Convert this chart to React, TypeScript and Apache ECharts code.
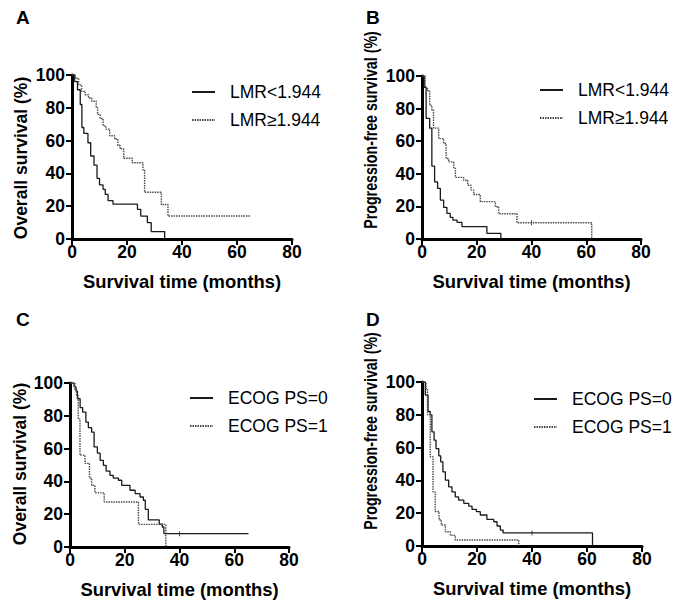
import React, { useEffect, useRef } from "react";
import * as echarts from "echarts";

// ---- Panel A: Overall survival by LMR ----
const aLowT = [0, 1, 2, 3, 3.6, 4.3, 5.8, 6.8, 8, 9.1, 10, 11.3, 12.1, 13.1, 14.9, 23.8, 25, 27.4, 28.8, 33.7];
const aLowS = [100, 96, 91, 82, 68, 64.4, 58.7, 50.6, 45, 37, 33, 30.3, 27.2, 23.4, 21.3, 18.1, 14, 10, 4.5, 0];
const aHighT = [0, 1.2, 2.4, 3.5, 4.8, 6, 7.2, 8.8, 9.3, 10.2, 11.3, 12.3, 13.7, 15.5, 16.7, 17.5, 18.8, 21.9, 25.8, 26.4, 32.5, 34.9, 65];
const aHighS = [100, 98, 94, 90, 88, 86, 84, 80, 76, 73.5, 69, 67, 63, 61, 57, 55, 49.2, 46.5, 42, 28.5, 21, 14, 14];

// ---- Panel B: Progression-free survival by LMR ----
const bLowT = [0, 0.8, 1.5, 2.8, 3.6, 4.6, 5.7, 6.7, 7.9, 9.1, 10.3, 11.3, 12.8, 14.6, 23.7, 28.8];
const bLowS = [100, 93, 74, 68, 44.7, 35, 31, 23.9, 19.4, 15.7, 13.3, 11.6, 10.2, 7.6, 3.5, 0];
const bHighT = [0, 1.2, 2.0, 2.8, 3.6, 4.2, 6.1, 7.9, 8.8, 9.7, 11.6, 12.2, 15.2, 16.7, 17.9, 18.9, 21.3, 26.8, 28, 34.7, 62, 62];
const bHighS = [100, 93, 91, 82, 79, 68, 61.6, 58.6, 49.4, 47.3, 43.3, 37.8, 36, 33, 30, 27.3, 22.9, 19.8, 15.5, 10, 10, 0];

// ---- Panel C: Overall survival by ECOG PS ----
const cPs0T = [0, 1.5, 2.2, 2.7, 3.7, 4.6, 5.8, 6.7, 7.9, 8.8, 10, 11, 12.2, 13.2, 14.6, 15.8, 17.7, 18.9, 21.9, 23.8, 25.6, 26.8, 27.5, 28.6, 32.6, 33.7, 34.3, 65.2];
const cPs0S = [100, 97.6, 95, 90.4, 85, 82.3, 76.2, 72.8, 70, 61, 57.3, 52.8, 49.8, 46.3, 43.7, 42, 40.7, 37.6, 34.6, 32.5, 30.5, 28.5, 23, 16.5, 14, 12.2, 8.1, 8.1];
const cPs1T = [0, 1.8, 2.4, 3.0, 3.65, 5.5, 7.1, 7.9, 9.1, 12.5, 25, 35];
const cPs1S = [100, 96, 92.5, 78, 56, 51, 42, 37.6, 33, 27.4, 13.8, 0];

// ---- Panel D: Progression-free survival by ECOG PS ----
const dPs0T = [0, 1.2, 2.2, 3, 3.6, 4.4, 5.1, 6.1, 6.8, 7.6, 8.5, 9.7, 10.9, 12.1, 13.3, 15.2, 17, 18.2, 19.8, 21.2, 23.6, 26.1, 27.3, 28.5, 29.5, 62, 62];
const dPs0S = [100, 92, 82, 80, 69.6, 64.5, 59.4, 55, 51.3, 45.2, 40.2, 36.1, 33, 30, 28, 26, 24.3, 22.3, 20.9, 18.9, 16.2, 14.8, 12.2, 9.7, 8, 8, 0];
const dPs1T = [0, 1.5, 2.0, 3.0, 4.0, 4.8, 6.2, 7.0, 8.5, 10.3, 12.1, 35.2, 35.2];
const dPs1S = [100, 96, 80, 54.4, 33, 21, 16, 12.8, 8.7, 6.5, 3.7, 3.7, 0];

// censored observations (tick marks)
const censorPanel = [1, 2, 3];
const censorT = [40, 40, 40];
const censorS = [10, 8.1, 8];

const groupLMR = ["LMR<1.944", "LMR\u22651.944"];
const groupECOG = ["ECOG PS=0", "ECOG PS=1"];
const panelLetters = ["A", "B", "C", "D"];
const yTitles = ["Overall survival (%)", "Progression-free survival (%)", "Overall survival (%)", "Progression-free survival (%)"];
const xTitle = "Survival time (months)";
const xTicks = [0, 20, 40, 60, 80];
const yTicks = [0, 20, 40, 60, 80, 100];

const FONT = "Arial, 'Liberation Sans', Helvetica, sans-serif";

const zip = (t: number[], s: number[]) => t.map((v, i) => [v, s[i]]);

const grids = [
  { left: 72, top: 75, width: 220, height: 164 },
  { left: 422, top: 76, width: 219, height: 163 },
  { left: 70, top: 383, width: 219, height: 164 },
  { left: 422, top: 382, width: 220, height: 164 },
];

const letterPos = [
  [16, 8],
  [366, 8],
  [16, 310],
  [366, 310],
];

// x, y (centre), font size, scale along the text
const yTitlePos = [
  [21, 158, 17.5, 1],
  [370, 130, 18, 0.79],
  [20, 464, 17.5, 1],
  [370, 431, 18, 0.79],
];

const legendPos = [
  { left: 191, top: 83 },
  { left: 539, top: 81 },
  { left: 189, top: 389 },
  { left: 533, top: 390 },
];

const SOLID = "#1a1a1a";
const DOTTED = "#4a4a4a";

export default function App() {
  const ref = useRef<HTMLDivElement>(null);
  useEffect(() => {
    if (!ref.current) return;
    const chart = echarts.init(ref.current, undefined, { renderer: "svg" });

    const curves = [
      { p: 0, name: groupLMR[0], t: aLowT, s: aLowS, dotted: false },
      { p: 0, name: groupLMR[1], t: aHighT, s: aHighS, dotted: true },
      { p: 1, name: groupLMR[0], t: bLowT, s: bLowS, dotted: false },
      { p: 1, name: groupLMR[1], t: bHighT, s: bHighS, dotted: true },
      { p: 2, name: groupECOG[0], t: cPs0T, s: cPs0S, dotted: false },
      { p: 2, name: groupECOG[1], t: cPs1T, s: cPs1S, dotted: true },
      { p: 3, name: groupECOG[0], t: dPs0T, s: dPs0S, dotted: false },
      { p: 3, name: groupECOG[1], t: dPs1T, s: dPs1S, dotted: true },
    ];

    const series: any[] = curves.map((c) => ({
      type: "line",
      name: c.name,
      xAxisIndex: c.p,
      yAxisIndex: c.p,
      step: "end",
      symbol: "none",
      data: zip(c.t, c.s),
      lineStyle: {
        color: c.dotted ? DOTTED : SOLID,
        width: c.dotted ? 1.4 : 1.3,
        type: c.dotted ? [1.5, 1] : "solid",
      },
      itemStyle: { color: c.dotted ? DOTTED : SOLID },
    }));

    censorPanel.forEach((p, i) => {
      series.push({
        type: "scatter",
        xAxisIndex: p,
        yAxisIndex: p,
        data: [[censorT[i], censorS[i]]],
        symbol: "rect",
        symbolSize: [1, 5],
        itemStyle: { color: SOLID },
        silent: true,
      });
    });

    const axisCommon = {
      type: "value",
      axisLine: { show: true, lineStyle: { color: "#000", width: 3 } },
      axisTick: { show: true, length: 6, lineStyle: { color: "#000", width: 2 } },
      splitLine: { show: false },
    };

    const xAxis = grids.map((_, i) => ({
      ...axisCommon,
      gridIndex: i,
      min: xTicks[0],
      max: xTicks[xTicks.length - 1],
      interval: 20,
      axisLabel: { color: "#000", fontSize: 17.5, fontWeight: "bold", fontFamily: FONT, margin: 4 },
      name: xTitle,
      nameLocation: "middle",
      nameGap: 33,
      nameTextStyle: { color: "#000", fontSize: 18.4, fontWeight: "bold", fontFamily: FONT },
    }));

    const yAxis = grids.map((_, i) => ({
      ...axisCommon,
      gridIndex: i,
      min: yTicks[0],
      max: yTicks[yTicks.length - 1],
      interval: 20,
      axisLabel: { color: "#000", fontSize: 17.5, fontWeight: "bold", fontFamily: FONT, margin: 7 },
    }));

    const legends = legendPos.map((pos, i) => ({
      ...pos,
      orient: "vertical",
      data: i < 2 ? groupLMR : groupECOG,
      selectedMode: false,
      itemWidth: 23,
      itemHeight: 14,
      itemGap: 10,
      padding: 0,
      itemStyle: { opacity: 0 },
      textStyle: { color: "#000", fontSize: 17.5, fontFamily: FONT, padding: [0, 0, 0, 10], lineHeight: 16 },
    }));

    const graphic: any[] = [];
    panelLetters.forEach((l, i) => {
      graphic.push({
        type: "text",
        left: letterPos[i][0],
        top: letterPos[i][1],
        style: { text: l, font: `bold 19px ${FONT}`, fill: "#000" },
      });
    });
    yTitles.forEach((t, i) => {
      graphic.push({
        type: "text",
        x: yTitlePos[i][0],
        y: yTitlePos[i][1],
        rotation: Math.PI / 2,
        scaleX: yTitlePos[i][3],
        style: {
          text: t,
          font: `bold ${yTitlePos[i][2]}px ${FONT}`,
          fill: "#000",
          align: "center",
          verticalAlign: "middle",
        },
      });
    });

    chart.setOption({
      animation: false,
      backgroundColor: "#fff",
      grid: grids,
      xAxis,
      yAxis,
      legend: legends,
      graphic,
      series,
    });
    return () => chart.dispose();
  }, []);
  return <div ref={ref} style={{ position: "absolute", left: 0, top: 0, width: 685, height: 615 }} />;
}
